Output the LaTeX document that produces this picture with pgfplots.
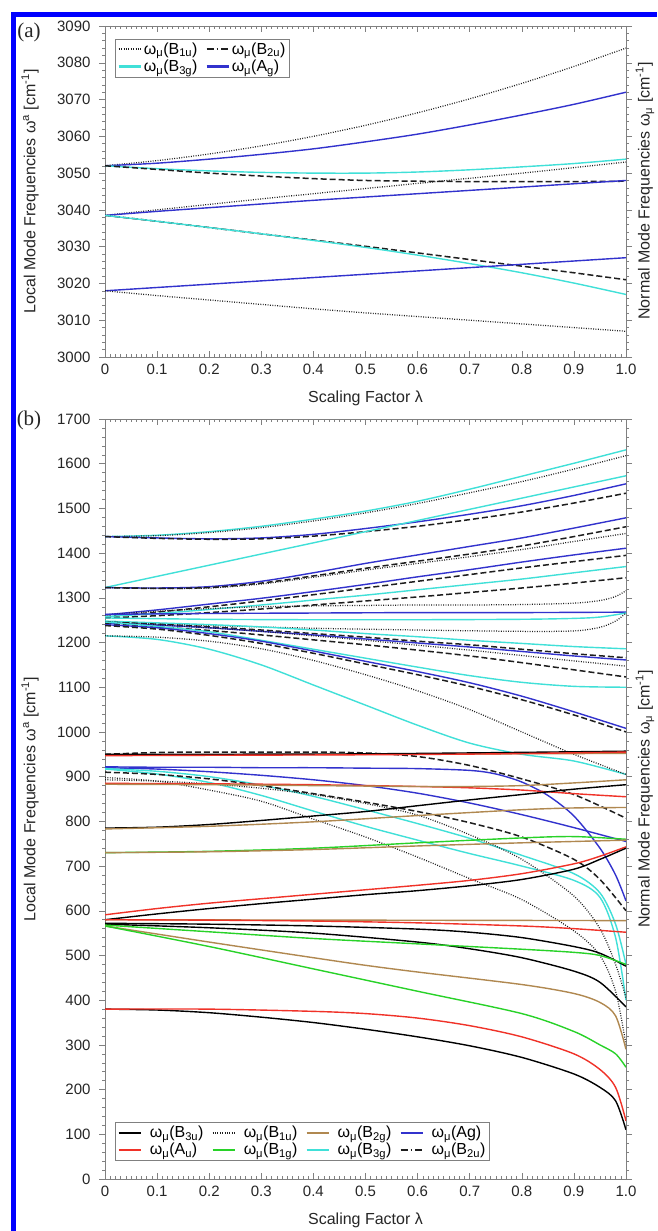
\documentclass[border=0pt]{standalone}
\usepackage{fontspec}
\setmainfont{Liberation Sans}
\newfontfamily\serifpanel{Liberation Serif}
\usepackage{pgfplots}
\pgfplotsset{compat=1.18}
\definecolor{cy}{RGB}{64,224,216}
\definecolor{bl}{RGB}{50,50,205}
\definecolor{rd}{RGB}{240,50,40}
\definecolor{br}{RGB}{176,136,80}
\definecolor{gr}{RGB}{40,210,40}
\definecolor{dk}{RGB}{30,30,30}
\tikzset{
 cyl/.style={draw=cy, line width=1.4pt},
 bll/.style={draw=bl, line width=1.4pt},
 dtl/.style={draw=dk, line width=1.25pt, dash pattern=on 0.9pt off 1.5pt},
 dsl/.style={draw=dk, line width=1.5pt, dash pattern=on 6pt off 3pt},
 rdl/.style={draw=rd, line width=1.4pt},
 brl/.style={draw=br, line width=1.4pt},
 grl/.style={draw=gr, line width=1.4pt},
 bkl/.style={draw=black, line width=1.4pt},
}
\pgfplotsset{
 mystyle/.style={
  scale only axis, width=521pt,
  xmin=0, xmax=1,
  xtick={0,0.1,0.2,0.3,0.4,0.5,0.6,0.7,0.8,0.9,1},
  xticklabels={0,0.1,0.2,0.3,0.4,0.5,0.6,0.7,0.8,0.9,1.0},
  minor x tick num=9,
  xtick align=inside, ytick align=outside,
  major tick length=6pt, minor tick length=3pt,
  tick style={gray, line width=0.5pt},
  axis line style={gray, line width=0.7pt},
  tick label style={font=\fontsize{15}{18}\selectfont, black!85},
  xticklabel style={yshift=-3pt},
  /pgf/number format/assume math mode=true,
  yticklabel style={/pgf/number format/1000 sep={}, xshift=-5pt},
  xlabel={Scaling Factor λ},
  every axis x label/.style={at={(axis description cs:0.5,0)}, anchor=center, yshift=-41pt, font=\fontsize{16}{19}\selectfont, black!85},
  every axis y label/.style={at={(axis description cs:-0.144,0.5)}, rotate=90, anchor=center, font=\fontsize{16}{19}\selectfont, black!85},
  ylabel={Local Mode Frequencies ω\textsuperscript{a} [cm\textsuperscript{-1}]},
  legend cell align=left,
  legend image code/.code={\draw[line width=2.2pt, ##1] (0pt,0pt) -- (22pt,0pt);},
 },
 every axis plot/.append style={smooth, tension=0.5},
}
\begin{document}
\begin{tikzpicture}
\useasboundingbox (0pt,0pt) rectangle (657pt,-1231pt);
\fill[white] (0pt,0pt) rectangle (657pt,-1231pt);
\fill[blue] (11pt,-12pt) rectangle (657pt,-17pt);
\fill[blue] (11pt,-12pt) rectangle (16pt,-1231pt);
\node[font=\serifpanel\fontsize{21}{23}\selectfont, black!85] at (29pt,-32pt) {(a)};
\node[font=\serifpanel\fontsize{21}{23}\selectfont, black!85] at (29pt,-420pt) {(b)};
\node[rotate=90, font=\fontsize{16}{19}\selectfont, black!85] at (645pt,-191pt) {Normal Mode Frequencies ω\textsubscript{μ} [cm\textsuperscript{-1}]};
\node[rotate=90, font=\fontsize{16}{19}\selectfont, black!85] at (645pt,-799pt) {Normal Mode Frequencies ω\textsubscript{μ} [cm\textsuperscript{-1}]};

% ---------------- panel (a)
\begin{axis}[mystyle, at={(105pt,-26pt)}, anchor=north west, height=331pt,
  ymin=3000, ymax=3090, ytick={3000,3010,...,3090}, minor y tick num=4,
  legend style={at={(axis description cs:0.02,0.962)}, anchor=north west, draw=gray,
    font=\fontsize{16}{21}\selectfont, legend columns=2, inner sep=2pt,
    /tikz/every even column/.append style={column sep=6pt}},
]
\addplot[dtl, forget plot] coordinates {(0,3052)(.1,3053.4)(.2,3055.2)(.3,3057.4)(.4,3060)(.5,3063)(.6,3066.4)(.7,3070.2)(.8,3074.4)(.9,3079)(1,3084)};
\addplot[bll, forget plot] coordinates {(0,3052)(.1,3052.7)(.2,3053.8)(.3,3055.1)(.4,3056.6)(.5,3058.5)(.6,3060.6)(.7,3063.1)(.8,3065.8)(.9,3068.7)(1,3072)};
\addplot[cyl, forget plot] coordinates {(0,3052)(.1,3051.2)(.2,3050.6)(.3,3050.2)(.4,3050.0)(.5,3050.0)(.6,3050.3)(.7,3050.9)(.8,3051.7)(.9,3052.6)(1,3053.8)};
\addplot[dsl, forget plot] coordinates {(0,3052)(.1,3051.0)(.2,3050.0)(.3,3049.2)(.4,3048.5)(.5,3048.0)(.6,3047.8)(.7,3047.7)(.8,3047.7)(.9,3047.7)(1,3047.8)};
\addplot[dtl, forget plot] coordinates {(0,3038.5)(.1,3040.0)(.2,3041.5)(.3,3043.0)(.4,3044.4)(.5,3045.8)(.6,3047.2)(.7,3048.6)(.8,3050.0)(.9,3051.5)(1,3053)};
\addplot[bll, forget plot] coordinates {(0,3038.5)(.1,3039.6)(.2,3040.6)(.3,3041.6)(.4,3042.6)(.5,3043.5)(.6,3044.4)(.7,3045.3)(.8,3046.2)(.9,3047.1)(1,3048)};
\addplot[dsl, forget plot] coordinates {(0,3038.5)(.1,3036.9)(.2,3035.2)(.3,3033.5)(.4,3031.8)(.5,3030.1)(.6,3028.3)(.7,3026.5)(.8,3024.7)(.9,3022.9)(1,3021)};
\addplot[cyl, forget plot] coordinates {(0,3038.5)(.1,3036.9)(.2,3035.2)(.3,3033.5)(.4,3031.7)(.5,3029.8)(.6,3027.7)(.7,3025.4)(.8,3022.9)(.9,3020.1)(1,3017)};
\addplot[bll, forget plot] coordinates {(0,3018)(.1,3018.9)(.2,3019.8)(.3,3020.7)(.4,3021.6)(.5,3022.5)(.6,3023.4)(.7,3024.3)(.8,3025.2)(.9,3026.1)(1,3027)};
\addplot[dtl, forget plot] coordinates {(0,3018)(.1,3016.7)(.2,3015.5)(.3,3014.3)(.4,3013.1)(.5,3012.0)(.6,3011.0)(.7,3010.0)(.8,3009.0)(.9,3008.0)(1,3007)};
\addlegendimage{dtl, line width=1.5pt}\addlegendentry{ω\textsubscript{μ}(B\textsubscript{1u})}
\addlegendimage{dsl, dash pattern=on 7pt off 3pt on 1.5pt off 3pt}\addlegendentry{ω\textsubscript{μ}(B\textsubscript{2u})}
\addlegendimage{cyl}\addlegendentry{ω\textsubscript{μ}(B\textsubscript{3g})}
\addlegendimage{bll}\addlegendentry{ω\textsubscript{μ}(A\textsubscript{g})}
\end{axis}

% ---------------- panel (b)
\begin{axis}[mystyle, at={(105pt,-419pt)}, anchor=north west, height=760pt,
  ymin=0, ymax=1700, ytick={0,100,...,1700}, minor y tick num=4,
  legend style={at={(axis description cs:0.02,0.075)}, anchor=north west, draw=gray,
    font=\fontsize{16}{21}\selectfont, legend columns=4, inner sep=2pt,
    /tikz/every even column/.append style={column sep=6pt},
    /tikz/every odd column/.append style={column sep=6pt}},
]
% upper bundle
\addplot[cyl, forget plot] coordinates {(0,1437)(.1,1440)(.2,1448)(.3,1460)(.4,1476)(.5,1494)(.6,1516)(.7,1543)(.8,1572)(.9,1601)(1,1631)};
\addplot[dtl, forget plot] coordinates {(0,1437)(.1,1439)(.2,1446)(.3,1457)(.4,1472)(.5,1490)(.6,1511)(.7,1535)(.8,1560)(.9,1588)(1,1618)};
\addplot[bll, forget plot] coordinates {(0,1437)(.1,1434)(.2,1432)(.3,1434)(.4,1442)(.5,1455)(.6,1470)(.7,1487)(.8,1506)(.9,1529)(1,1555)};
\addplot[dsl, forget plot] coordinates {(0,1437)(.1,1433)(.2,1431)(.3,1432)(.4,1438)(.5,1448)(.6,1460)(.7,1475)(.8,1492)(.9,1512)(1,1534)};
\addplot[cyl, forget plot] coordinates {(0,1323)(.1,1348)(.2,1373)(.3,1398)(.4,1423)(.5,1448)(.6,1473)(.7,1498)(.8,1523)(.9,1548)(1,1573)};
\addplot[bll, forget plot] coordinates {(0,1323)(.1,1322)(.2,1325)(.3,1337)(.4,1356)(.5,1377)(.6,1396)(.7,1415)(.8,1434)(.9,1456)(1,1479)};
\addplot[dsl, forget plot] coordinates {(0,1323)(.1,1321)(.2,1323)(.3,1333)(.4,1349)(.5,1366)(.6,1382)(.7,1398)(.8,1416)(.9,1437)(1,1459)};
\addplot[dtl, forget plot] coordinates {(0,1323)(.1,1321)(.2,1322)(.3,1331)(.4,1346)(.5,1362)(.6,1377)(.7,1392)(.8,1408)(.9,1426)(1,1444)};
\addplot[bll, forget plot] coordinates {(0,1262)(.1,1273)(.2,1286)(.3,1299)(.4,1314)(.5,1330)(.6,1347)(.7,1363)(.8,1380)(.9,1396)(1,1411)};
\addplot[dsl, forget plot] coordinates {(0,1258)(.1,1268)(.2,1280)(.3,1293)(.4,1307)(.5,1322)(.6,1337)(.7,1352)(.8,1367)(.9,1381)(1,1395)};
\addplot[cyl, forget plot] coordinates {(0,1258)(.1,1265)(.2,1274)(.3,1284)(.4,1295)(.5,1306)(.6,1318)(.7,1330)(.8,1342)(.9,1356)(1,1370)};
\addplot[dsl, forget plot] coordinates {(0,1255)(.1,1260)(.2,1267)(.3,1275)(.4,1284)(.5,1293)(.6,1302)(.7,1312)(.8,1322)(.9,1333)(1,1345)};
\addplot[dtl, forget plot] coordinates {(0,1262)(.1,1270)(.2,1276)(.3,1280)(.4,1282)(.5,1283)(.6,1284)(.7,1284)(.8,1285)(.9,1288)(.95,1294)(.98,1303)(1,1316)};
\addplot[bll, forget plot] coordinates {(0,1263)(.2,1265)(.4,1266)(.6,1267)(.8,1267)(1,1268)};
\addplot[cyl, forget plot] coordinates {(0,1255)(.2,1252)(.4,1251)(.6,1251)(.8,1252)(.9,1254)(.95,1257)(1,1266)};
\addplot[dtl, forget plot] coordinates {(0,1245)(.2,1238)(.4,1232)(.6,1228)(.8,1225)(.9,1226)(.95,1234)(.98,1248)(1,1266)};
\addplot[cyl, forget plot] coordinates {(0,1248)(.1,1244)(.2,1240)(.3,1235)(.4,1228)(.5,1220)(.6,1213)(.7,1205)(.8,1198)(.9,1191)(1,1186)};
\addplot[dsl, forget plot] coordinates {(0,1246)(.1,1241)(.2,1235)(.3,1228)(.4,1220)(.5,1212)(.6,1203)(.7,1195)(.8,1185)(.9,1175)(1,1166)};
\addplot[bll, forget plot] coordinates {(0,1244)(.1,1239)(.2,1233)(.3,1225)(.4,1217)(.5,1208)(.6,1199)(.7,1190)(.8,1180)(.9,1170)(1,1161)};
\addplot[dtl, forget plot] coordinates {(0,1246)(.1,1240)(.2,1233)(.3,1225)(.4,1215)(.5,1205)(.6,1194)(.7,1183)(.8,1171)(.9,1159)(1,1147)};
\addplot[dsl, forget plot] coordinates {(0,1242)(.1,1235)(.2,1227)(.3,1217)(.4,1206)(.5,1195)(.6,1183)(.7,1170)(.8,1155)(.9,1139)(1,1123)};
\addplot[cyl, forget plot] coordinates {(0,1246)(.1,1236)(.2,1224)(.3,1205)(.4,1185)(.5,1165)(.6,1145)(.7,1126)(.8,1111)(.9,1102)(1,1100)};
\addplot[bll, forget plot] coordinates {(0,1240)(.1,1233)(.2,1220)(.3,1203)(.4,1181)(.5,1158)(.6,1135)(.7,1110)(.8,1080)(.9,1045)(1,1008)};
\addplot[dsl, forget plot] coordinates {(0,1238)(.1,1230)(.2,1216)(.3,1198)(.4,1176)(.5,1152)(.6,1128)(.7,1102)(.8,1072)(.9,1038)(1,1000)};
\addplot[cyl, forget plot] coordinates {(0,1215)(.1,1207)(.2,1185)(.3,1150)(.4,1105)(.5,1060)(.6,1015)(.7,975)(.8,950)(.9,935)(1,905)};
\addplot[dtl, forget plot] coordinates {(0,1215)(.1,1212)(.2,1203)(.3,1186)(.4,1160)(.5,1128)(.6,1092)(.7,1050)(.8,1000)(.9,950)(1,905)};
% middle
\addplot[dsl, forget plot] coordinates {(0,950)(.1,954)(.2,955)(.3,955)(.4,955)(.5,953)(.6,945)(.7,925)(.8,895)(.9,860)(1,807)};
\addplot[brl, forget plot] coordinates {(0,948)(.5,950)(1,952)};
\addplot[bkl, forget plot] coordinates {(0,950)(.5,951)(1,957)};
\addplot[rdl, forget plot] coordinates {(0,947)(.25,948)(.5,949)(.75,951)(1,955)};
\addplot[bll, forget plot] coordinates {(0,922)(.1,921)(.2,921)(.3,920)(.4,920)(.5,919)(.6,918)(.7,914)(.75,906)(.8,888)(.85,858)(.9,812)(.95,740)(.98,680)(1,622)};
\addplot[bll, forget plot] coordinates {(0,920)(.1,917)(.2,911)(.3,903)(.4,893)(.5,880)(.6,863)(.7,841)(.8,815)(.9,786)(1,755)};
\addplot[cyl, forget plot] coordinates {(0,918)(.1,912)(.2,900)(.3,881)(.4,856)(.5,826)(.6,795)(.7,762)(.8,724)(.9,683)(.95,640)(.98,570)(1,480)};
\addplot[cyl, forget plot] coordinates {(0,917)(.1,906)(.2,887)(.3,858)(.4,823)(.5,789)(.6,758)(.7,728)(.8,700)(.9,668)(.95,630)(.98,540)(1,400)};
\addplot[dsl, forget plot] coordinates {(0,910)(.1,905)(.2,895)(.3,880)(.4,862)(.5,843)(.6,822)(.7,797)(.8,765)(.9,715)(.95,670)(1,600)};
\addplot[dtl, forget plot] coordinates {(0,898)(.1,890)(.2,870)(.3,845)(.4,805)(.5,765)(.6,720)(.7,672)(.8,625)(.9,555)(.95,500)(.98,420)(1,300)};
\addplot[dtl, forget plot] coordinates {(0,893)(.1,890)(.2,884)(.3,874)(.4,860)(.5,840)(.6,814)(.7,770)(.8,715)(.9,633)(.95,560)(.98,480)(1,405)};
\addplot[rdl, forget plot] coordinates {(0,885)(.2,884)(.4,882)(.6,878)(.7,875)(.8,870)(.9,862)(1,855)};
\addplot[brl, forget plot] coordinates {(0,883)(.2,882)(.4,880)(.6,878)(.7,878)(.8,880)(.9,886)(1,893)};
\addplot[bkl, forget plot] coordinates {(0,785)(.1,787)(.2,793)(.3,802)(.4,812)(.5,822)(.6,835)(.7,848)(.8,860)(.9,872)(1,882)};
\addplot[brl, forget plot] coordinates {(0,783)(.2,789)(.4,799)(.6,813)(.8,826)(.9,830)(1,831)};
\addplot[grl, forget plot] coordinates {(0,730)(.2,733)(.4,740)(.6,752)(.8,763)(.9,766)(1,760)};
\addplot[brl, forget plot] coordinates {(0,730)(.2,732)(.4,737)(.6,745)(.8,752)(.9,755)(1,758)};
% lower
\addplot[rdl, forget plot] coordinates {(0,591)(.1,605)(.2,617)(.3,627)(.4,637)(.5,647)(.6,657)(.7,668)(.8,683)(.9,705)(.95,722)(1,743)};
\addplot[bkl, forget plot] coordinates {(0,580)(.1,593)(.2,605)(.3,616)(.4,626)(.5,636)(.6,645)(.7,656)(.8,670)(.9,693)(.95,715)(1,740)};
\addplot[brl, forget plot] coordinates {(0,580)(.5,579)(1,578)};
\addplot[rdl, forget plot] coordinates {(0,580)(.2,579)(.4,577)(.6,573)(.8,566)(.9,560)(1,552)};
\addplot[bkl, forget plot] coordinates {(0,572)(.2,570)(.4,566)(.6,559)(.7,552)(.8,540)(.9,520)(.95,505)(1,476)};
\addplot[bkl, forget plot] coordinates {(0,570)(.2,562)(.4,550)(.6,530)(.7,515)(.8,495)(.9,465)(.95,440)(1,385)};
\addplot[grl, forget plot] coordinates {(0,568)(.2,553)(.4,538)(.6,526)(.8,514)(.9,507)(.95,500)(1,480)};
\addplot[brl, forget plot] coordinates {(0,566)(.2,530)(.4,495)(.5,478)(.6,463)(.8,435)(.9,415)(.95,395)(.98,365)(1,290)};
\addplot[grl, forget plot] coordinates {(0,566)(.2,520)(.4,470)(.6,420)(.8,370)(.9,330)(.95,300)(.98,280)(1,250)};
\addplot[bkl, forget plot] coordinates {(0,380)(.1,378)(.2,372)(.3,362)(.4,350)(.5,335)(.6,318)(.7,298)(.8,272)(.9,235)(.95,205)(.98,175)(1,110)};
\addplot[rdl, forget plot] coordinates {(0,380)(.2,380)(.4,375)(.5,370)(.6,360)(.7,343)(.8,318)(.9,280)(.95,245)(.98,205)(1,130)};
\addlegendimage{bkl}\addlegendentry{ω\textsubscript{μ}(B\textsubscript{3u})}
\addlegendimage{dtl, line width=1.5pt}\addlegendentry{ω\textsubscript{μ}(B\textsubscript{1u})}
\addlegendimage{brl}\addlegendentry{ω\textsubscript{μ}(B\textsubscript{2g})}
\addlegendimage{bll}\addlegendentry{ω\textsubscript{μ}(Ag)}
\addlegendimage{rdl}\addlegendentry{ω\textsubscript{μ}(A\textsubscript{u})}
\addlegendimage{grl}\addlegendentry{ω\textsubscript{μ}(B\textsubscript{1g})}
\addlegendimage{cyl}\addlegendentry{ω\textsubscript{μ}(B\textsubscript{3g})}
\addlegendimage{dsl, dash pattern=on 7pt off 3pt on 1.5pt off 3pt}\addlegendentry{ω\textsubscript{μ}(B\textsubscript{2u})}
\end{axis}
\end{tikzpicture}
\end{document}
